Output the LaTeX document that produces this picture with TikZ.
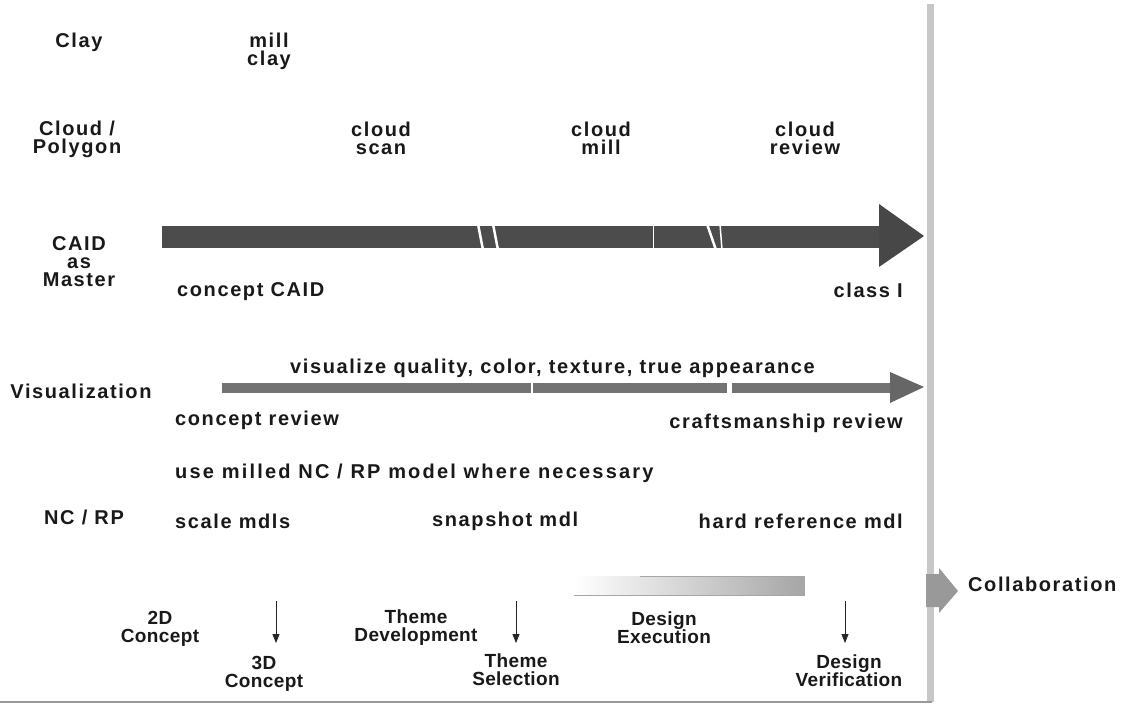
\documentclass[tikz,border=0pt]{standalone}
\usepackage{fontspec}
\newfontfamily\labfont{Liberation Sans}[LetterSpace=8]
\newfontfamily\widefont{Liberation Sans}[LetterSpace=11]
\newfontfamily\tightfont{Liberation Sans}[LetterSpace=2]
\usetikzlibrary{arrows.meta}
\tikzset{
  x=1pt,y=-1pt,
  lab/.style={font=\labfont\bfseries\fontsize{20}{18}\selectfont, align=center, inner sep=0pt, text=black!90},
  widelab/.style={lab, font=\widefont\bfseries\fontsize{20}{18}\selectfont},
  botlab/.style={lab, font=\tightfont\bfseries\fontsize{19}{18}\selectfont},
  bigshaft/.style={fill=black!70, draw=none},
  bighead/.style={fill=black!72, draw=none},
  visshaft/.style={fill=black!55, draw=none},
  vishead/.style={fill=black!60, draw=none},
  gap/.style={draw=white, line width=2.5pt},
  tick/.style={draw=black!85, line width=0.8pt, -{Triangle[length=9pt,width=7pt]}},
  rbar/.style={fill=black!22, draw=none},
}
\begin{document}
\begin{tikzpicture}
\useasboundingbox (0,0) rectangle (1123,709);
\fill[white] (0,0) rectangle (1123,709);
% right bar and bottom line
\fill[rbar] (927,4) rectangle (934,702);
\draw[black!40, line width=2.5pt] (0,702) -- (932,702);
% CAID arrow
\fill[bigshaft] (162,226) rectangle (881,248);
\fill[bighead] (879,204) -- (924,236) -- (879,267) -- cycle;
\draw[gap] (478,224) -- (483,250);
\draw[gap] (493,224) -- (498,250);
\draw[gap] (707,224) -- (716,250);
\draw[white, line width=1.5pt] (720,224) -- (722,250);
\draw[white, line width=0.6pt] (653,224) -- (653,250);
% Visualization arrow
\fill[visshaft] (222,383) rectangle (892,393);
\fill[vishead] (890,372) -- (924,387) -- (890,403) -- cycle;
\draw[white, line width=1.2pt] (532,381) -- (532,395);
\draw[white, line width=5pt] (729,381) -- (729,395);
% Design execution bar
\shade[left color=white, right color=black!35] (574,576) rectangle (804,595);
\draw[black!35, line width=0.6pt] (640,576) -- (804,576) -- (804,595) -- (574,595);
% Collaboration arrow
\fill[black!40] (926,574) -- (939,574) -- (939,568) -- (958,591) -- (939,613) -- (939,607) -- (926,607) -- cycle;
% labels
\node[lab] (clay) at (79,42) {Clay};
\node[lab] (cloudpoly) at (77,139) {Cloud /\\Polygon};
\node[lab] (caidm) at (79,262) {CAID\\as\\Master};
\node[lab] (vis) at (81,391) {Visualization};
\node[lab] (ncrp) at (84,517) {NC / RP};
\node[lab] (millclay) at (269,51) {mill\\clay};
\node[lab] (cscan) at (381,138) {cloud\\scan};
\node[lab] (cmill) at (601,138) {cloud\\mill};
\node[lab] (creview) at (805,138) {cloud\\review};
\node[lab,anchor=west] (ccaid) at (177,292) {concept CAID};
\node[lab,anchor=east] (classI) at (903,290) {class I};
\node[lab,anchor=west] (visq) at (290,368) {visualize quality, color, texture, true appearance};
\node[lab,anchor=west] (crev) at (175,420) {concept review};
\node[lab,anchor=east] (craft) at (903,423) {craftsmanship review};
\node[widelab,anchor=west] (use) at (175,473) {use milled NC / RP model where necessary};
\node[lab,anchor=west] (scale) at (175,521) {scale mdls};
\node[lab,anchor=west] (snap) at (432,521) {snapshot mdl};
\node[lab,anchor=east] (hard) at (903,521) {hard reference mdl};
\node[botlab] (c2d) at (160,629) {2D\\Concept};
\node[botlab] (c3d) at (264,674) {3D\\Concept};
\node[botlab] (tdev) at (416,628) {Theme\\Development};
\node[botlab] (tsel) at (516,670) {Theme\\Selection};
\node[botlab] (dexe) at (664,628) {Design\\Execution};
\node[botlab] (dver) at (849,671) {Design\\Verification};
\node[lab,anchor=west] (collab) at (968,584) {Collaboration};
% small arrows
\coordinate (t1a) at (276,601); \coordinate (t1b) at (276,643);
\coordinate (t2a) at (516,601); \coordinate (t2b) at (516,643);
\coordinate (t3a) at (845,601); \coordinate (t3b) at (845,643);
\draw[tick] (t1a) -- (t1b);
\draw[tick] (t2a) -- (t2b);
\draw[tick] (t3a) -- (t3b);
\end{tikzpicture}
\end{document}
